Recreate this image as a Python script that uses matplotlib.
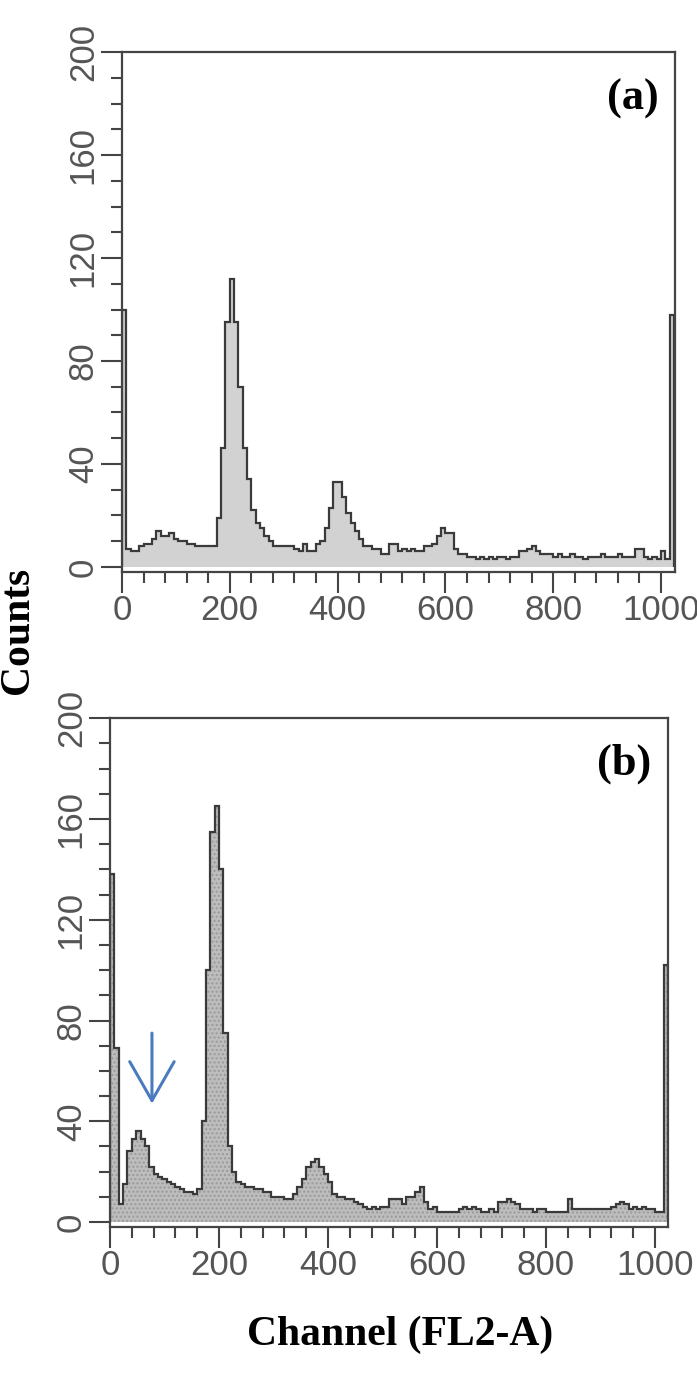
import numpy as np
import matplotlib.pyplot as plt
from matplotlib.ticker import MultipleLocator

# 通道边界(每格 8 个通道, 0-1024)
edges = np.arange(0, 1025, 8)

# (a) 计数
counts_a = [
    100, 7, 6, 6, 8, 9, 9, 11, 14, 12, 12, 13, 11, 10, 10, 9,
    9, 8, 8, 8, 8, 8, 19, 46, 95, 112, 95, 70, 46, 34, 22, 17,
    15, 12, 10, 8, 8, 8, 8, 8, 7, 6, 9, 6, 6, 9, 10, 15,
    23, 33, 33, 27, 21, 17, 14, 11, 8, 8, 7, 7, 5, 5, 9, 9,
    6, 7, 6, 7, 6, 6, 8, 8, 9, 12, 15, 13, 13, 7, 5, 5,
    4, 4, 3, 4, 3, 4, 3, 4, 4, 3, 4, 4, 6, 6, 7, 8,
    6, 5, 5, 5, 4, 5, 4, 4, 5, 4, 4, 3, 4, 4, 4, 5,
    4, 4, 4, 5, 4, 4, 4, 7, 7, 4, 3, 4, 3, 6, 3, 98,
]

# (b) 计数
counts_b = [
    138, 69, 7, 15, 28, 33, 36, 33, 30, 22, 19, 18, 17, 16, 15, 14,
    13, 12, 12, 11, 13, 40, 100, 155, 165, 140, 75, 30, 20, 16, 15, 14,
    14, 13, 13, 12, 12, 10, 10, 10, 9, 9, 11, 14, 17, 22, 24, 25,
    22, 19, 16, 11, 10, 10, 9, 9, 8, 7, 6, 5, 6, 5, 6, 6,
    9, 9, 9, 7, 10, 10, 12, 14, 8, 5, 6, 4, 4, 4, 4, 4,
    5, 6, 5, 6, 5, 4, 4, 5, 4, 8, 8, 9, 8, 7, 5, 5,
    5, 4, 5, 5, 4, 4, 4, 4, 4, 9, 5, 5, 5, 5, 5, 5,
    5, 5, 5, 6, 7, 8, 7, 5, 6, 5, 6, 5, 5, 4, 4, 102,
]

panel_labels = ['(a)', '(b)']
x_ticks = [0, 200, 400, 600, 800, 1000]
y_ticks = [0, 40, 80, 120, 160, 200]

fig = plt.figure(figsize=(6.97, 13.75), dpi=100)

# 两个子图的位置(按原图像素换算)
ax_a = fig.add_axes([122 / 697, 0.584, 553 / 697, 0.378])
ax_b = fig.add_axes([110 / 697, 0.1076, 558 / 697, 0.370])

tick_font = dict(family=['Liberation Sans Narrow', 'Liberation Sans', 'DejaVu Sans'],
                 size=25, color='#555555')

for ax, counts, lab, xmax, fill in [(ax_a, counts_a, '(a)', 1026, '#d2d2d2'),
                                    (ax_b, counts_b, '(b)', 1024, '#bdbdbd')]:
    ax.stairs(counts, edges, fill=True, color=fill, hatch='....' if lab == '(b)' else None,
              edgecolor='#9a9a9a' if lab == '(b)' else fill, linewidth=0)
    ax.stairs(counts, edges, color='#3a3a3a', linewidth=1.6)
    ax.set_xlim(0, xmax)
    ax.set_ylim(-2, 200)
    ax.set_xticks(x_ticks)
    ax.set_yticks(y_ticks)
    ax.xaxis.set_minor_locator(MultipleLocator(40))
    ax.yaxis.set_minor_locator(MultipleLocator(10))
    ax.tick_params(which='major', length=15, width=1.5, color='#444444', pad=1)
    ax.tick_params(which='minor', length=8, width=1.5, color='#444444')
    for spine in ax.spines.values():
        spine.set_linewidth(1.6)
        spine.set_color('#444444')
    for t in ax.get_xticklabels():
        t.set(**tick_font)
    for t in ax.get_yticklabels():
        t.set(**tick_font)
        t.set_rotation(90)
        t.set_va('center')
    ax.text(0.97, 0.91, lab, transform=ax.transAxes, ha='right', va='center',
            family='Liberation Serif', fontweight='bold', fontsize=32)

# 蓝色箭头
ax_b.annotate('', xy=(77, 47), xytext=(77, 75),
              arrowprops=dict(arrowstyle='->,head_length=1.4,head_width=0.8',
                              color='#4a7bbf', lw=2.2, mutation_scale=20,
                              shrinkA=0, shrinkB=0))

fig.text(18 / 697, 1 - 630 / 1375, 'Counts', rotation=90, ha='center', va='center',
         family='Liberation Serif', fontweight='bold', fontsize=30)
fig.text(400 / 697, 1 - 1335 / 1375, 'Channel (FL2-A)', ha='center', va='center',
         family='Liberation Serif', fontweight='bold', fontsize=30)

plt.savefig('out.png', dpi=100)
